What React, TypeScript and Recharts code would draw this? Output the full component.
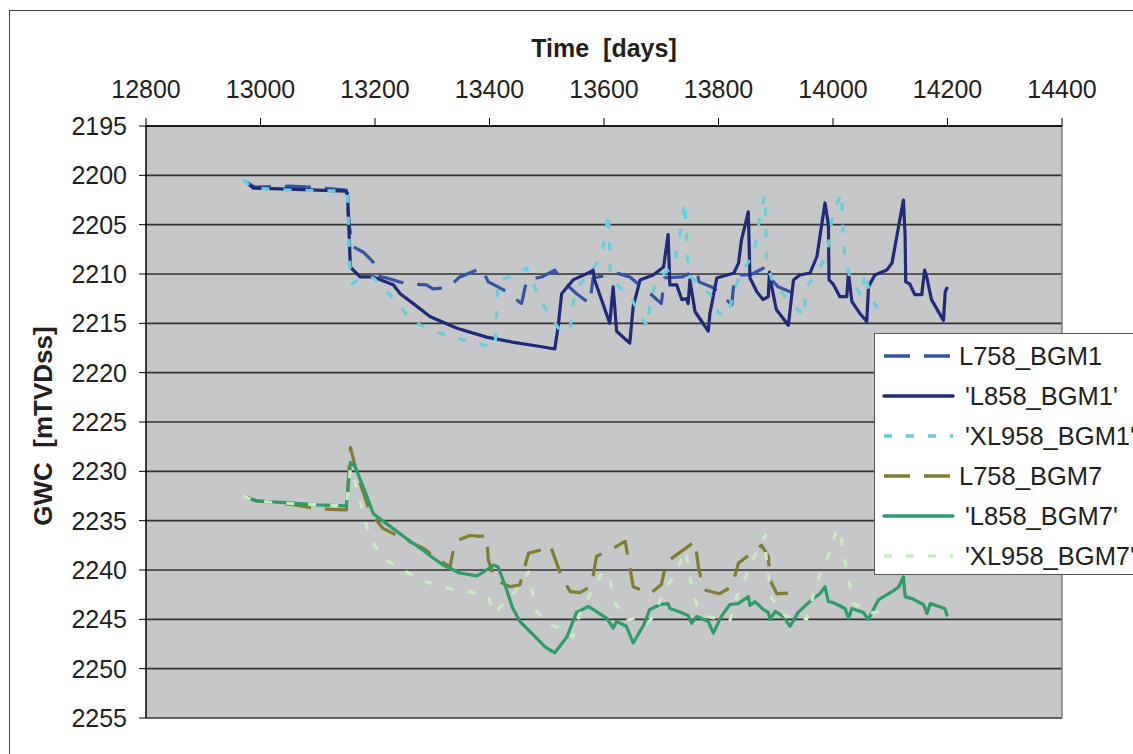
import { CartesianGrid, Line, LineChart, ReferenceLine, XAxis, YAxis } from 'recharts'

// [day, GWC in mTVDss] pairs
const L758_BGM1: [number, number][] = [
  [12975, 2200.7], [12990, 2201.2], [13050, 2201.1], [13090, 2201.2], [13150, 2201.5], [13155, 2205.0],
  [13160, 2207.2], [13180, 2207.8], [13197, 2208.8], [13205, 2210.2], [13220, 2210.4], [13255, 2211.0],
  [13290, 2211.1], [13301, 2211.5], [13328, 2211.4], [13348, 2210.3], [13386, 2209.4], [13398, 2210.8],
  [13415, 2211.3], [13430, 2211.8], [13456, 2213.0], [13465, 2210.6], [13491, 2210.3], [13514, 2209.6],
  [13526, 2210.6], [13552, 2212.0], [13575, 2213.0], [13581, 2210.4], [13622, 2209.9], [13645, 2210.3],
  [13683, 2212.1], [13700, 2213.0], [13706, 2210.4], [13736, 2210.3], [13762, 2209.6], [13766, 2210.8],
  [13791, 2211.4], [13823, 2213.1], [13826, 2211.4], [13832, 2210.1], [13855, 2210.1], [13882, 2209.3],
  [13890, 2210.4], [13904, 2211.3], [13925, 2211.8], [13939, 2212.5],
]

const L858_BGM1: [number, number][] = [
  [12975, 2200.7], [12988, 2201.3], [13050, 2201.4], [13148, 2201.6], [13152, 2201.8], [13157, 2209.3],
  [13174, 2210.3], [13197, 2210.3], [13232, 2211.1], [13244, 2212.0], [13267, 2213.0], [13296, 2214.3],
  [13343, 2215.5], [13395, 2216.4], [13440, 2216.9], [13494, 2217.4], [13514, 2217.6], [13520, 2215.3],
  [13526, 2212.0], [13546, 2210.6], [13576, 2209.8], [13581, 2209.6], [13583, 2210.5], [13610, 2215.0],
  [13616, 2211.3], [13622, 2215.8], [13645, 2217.0], [13651, 2213.3], [13663, 2210.6], [13686, 2210.1],
  [13704, 2209.3], [13712, 2206.0], [13715, 2211.1], [13727, 2211.1], [13736, 2212.6], [13744, 2212.5],
  [13747, 2213.0], [13750, 2210.6], [13759, 2213.8], [13782, 2215.8], [13785, 2214.0], [13797, 2210.4],
  [13827, 2209.9], [13835, 2208.9], [13840, 2206.6], [13852, 2203.7], [13855, 2210.4], [13867, 2211.8],
  [13878, 2212.6], [13887, 2212.3], [13889, 2209.8], [13892, 2211.0], [13901, 2213.6], [13922, 2215.2],
  [13931, 2210.6], [13942, 2210.1], [13960, 2209.9], [13972, 2208.2], [13986, 2202.8], [13992, 2205.0],
  [13993, 2210.6], [14000, 2211.0], [14012, 2212.3], [14024, 2212.3], [14027, 2209.9], [14033, 2212.8],
  [14047, 2214.0], [14059, 2214.8], [14062, 2211.3], [14073, 2210.1], [14094, 2209.6], [14103, 2208.9],
  [14123, 2202.5], [14126, 2206.2], [14127, 2210.8], [14134, 2211.0], [14143, 2212.1], [14155, 2212.1],
  [14160, 2209.6], [14163, 2210.1], [14172, 2212.6], [14193, 2214.7], [14196, 2211.8], [14200, 2211.3],
]

const XL958_BGM1: [number, number][] = [
  [12970, 2200.4], [12985, 2201.3], [13050, 2201.5], [13148, 2201.6], [13152, 2202.0], [13157, 2210.5],
  [13160, 2211.0], [13175, 2210.4], [13197, 2210.4], [13226, 2212.1], [13264, 2214.7], [13296, 2215.7],
  [13337, 2216.4], [13371, 2217.0], [13410, 2217.4], [13413, 2213.0], [13415, 2210.6], [13436, 2210.3],
  [13465, 2209.4], [13474, 2210.6], [13488, 2212.6], [13506, 2214.2], [13523, 2215.7], [13541, 2215.7],
  [13544, 2213.6], [13552, 2211.4], [13573, 2210.1], [13596, 2208.2], [13608, 2203.8], [13610, 2207.9],
  [13611, 2210.1], [13628, 2211.4], [13645, 2212.1], [13663, 2214.3], [13677, 2215.3], [13680, 2213.0],
  [13692, 2210.4], [13721, 2209.3], [13736, 2205.0], [13741, 2202.7], [13745, 2206.9], [13747, 2209.9],
  [13768, 2211.4], [13785, 2212.0], [13800, 2214.0], [13817, 2214.2], [13826, 2211.8], [13838, 2210.1],
  [13862, 2207.9], [13874, 2203.5], [13882, 2202.0], [13883, 2206.6], [13884, 2208.9], [13896, 2211.0],
  [13933, 2213.3], [13950, 2214.3], [13952, 2211.5], [13968, 2210.1], [13989, 2208.2], [14000, 2203.8],
  [14015, 2201.8], [14018, 2206.2], [14021, 2208.6], [14030, 2210.4], [14050, 2212.3], [14056, 2209.8],
  [14064, 2212.0], [14080, 2213.8], [14085, 2213.0],
]

const L758_BGM7: [number, number][] = [
  [12975, 2232.6], [12993, 2233.0], [13060, 2233.4], [13100, 2233.8], [13150, 2233.9], [13157, 2227.6],
  [13170, 2230.5], [13191, 2234.1], [13214, 2235.8], [13249, 2236.8], [13284, 2237.8], [13313, 2239.0],
  [13331, 2239.7], [13340, 2237.1], [13366, 2236.5], [13383, 2236.6], [13395, 2236.5], [13398, 2239.0],
  [13410, 2241.0], [13436, 2241.7], [13453, 2241.5], [13468, 2238.3], [13488, 2238.0], [13506, 2237.5],
  [13526, 2240.7], [13541, 2242.2], [13558, 2242.3], [13578, 2241.6], [13587, 2238.6], [13610, 2238.0],
  [13637, 2237.1], [13645, 2239.7], [13651, 2241.7], [13680, 2242.4], [13700, 2241.5], [13709, 2239.2],
  [13759, 2237.1], [13765, 2239.7], [13774, 2242.0], [13802, 2242.4], [13823, 2241.7], [13835, 2239.3],
  [13875, 2237.5], [13887, 2238.6], [13890, 2241.0], [13902, 2242.4], [13937, 2242.3],
]

const L858_BGM7: [number, number][] = [
  [12975, 2232.6], [12993, 2233.0], [13050, 2233.2], [13100, 2233.4], [13150, 2233.5], [13157, 2229.1],
  [13165, 2229.5], [13183, 2232.1], [13197, 2234.3], [13220, 2235.3], [13255, 2236.8], [13284, 2238.0],
  [13302, 2238.8], [13319, 2239.5], [13348, 2240.3], [13378, 2240.6], [13395, 2240.0], [13407, 2239.5],
  [13415, 2239.7], [13430, 2242.0], [13440, 2243.8], [13453, 2245.2], [13477, 2246.6], [13497, 2247.8],
  [13514, 2248.4], [13535, 2246.8], [13552, 2244.3], [13573, 2243.7], [13581, 2244.0], [13605, 2244.9],
  [13616, 2245.9], [13622, 2245.2], [13639, 2245.7], [13651, 2247.4], [13669, 2245.6], [13680, 2244.0],
  [13698, 2243.5], [13712, 2243.4], [13715, 2243.9], [13730, 2244.2], [13747, 2244.6], [13753, 2245.4],
  [13762, 2244.7], [13782, 2245.2], [13791, 2246.4], [13805, 2244.7], [13820, 2243.5], [13835, 2243.4],
  [13852, 2242.7], [13855, 2243.6], [13864, 2243.2], [13878, 2244.0], [13887, 2244.3], [13890, 2245.0],
  [13899, 2244.2], [13913, 2244.7], [13925, 2245.7], [13939, 2244.3], [13963, 2243.0], [13977, 2242.4],
  [13986, 2241.7], [13992, 2243.2], [14000, 2243.3], [14021, 2243.9], [14027, 2244.9], [14033, 2243.9],
  [14053, 2244.3], [14062, 2245.0], [14076, 2243.4], [14080, 2243.0], [14103, 2242.2], [14115, 2241.7],
  [14123, 2240.7], [14126, 2242.7], [14138, 2242.9], [14158, 2243.5], [14164, 2244.4], [14170, 2243.4],
  [14195, 2243.9], [14200, 2244.7],
]

const XL958_BGM7: [number, number][] = [
  [12970, 2232.5], [12990, 2233.0], [13060, 2233.3], [13150, 2233.5], [13157, 2229.7], [13171, 2232.1],
  [13180, 2234.6], [13194, 2237.1], [13220, 2239.0], [13255, 2240.2], [13290, 2241.2], [13331, 2241.9],
  [13366, 2242.2], [13398, 2242.7], [13407, 2244.4], [13415, 2244.0], [13442, 2242.4], [13468, 2240.2],
  [13474, 2242.0], [13482, 2244.2], [13506, 2245.6], [13529, 2245.9], [13546, 2246.8], [13558, 2244.4],
  [13578, 2242.2], [13598, 2240.2], [13610, 2240.7], [13616, 2243.0], [13639, 2245.1], [13654, 2244.9],
  [13677, 2245.4], [13689, 2244.4], [13704, 2242.2], [13727, 2240.2], [13741, 2238.0], [13747, 2239.3],
  [13753, 2241.7], [13762, 2243.5], [13782, 2244.7], [13808, 2245.1], [13820, 2245.1], [13832, 2242.7],
  [13849, 2240.5], [13867, 2238.1], [13882, 2236.5], [13883, 2238.6], [13893, 2242.9], [13917, 2244.7],
  [13939, 2244.7], [13954, 2245.0], [13965, 2242.7], [13977, 2240.5], [13994, 2238.3], [14006, 2236.0],
  [14012, 2235.8], [14018, 2238.0], [14027, 2241.0], [14036, 2243.4], [14047, 2243.7], [14059, 2244.4],
  [14085, 2244.2],
]

const xTicks = [12800, 13000, 13200, 13400, 13600, 13800, 14000, 14200, 14400]
const yTicks = [2195, 2200, 2205, 2210, 2215, 2220, 2225, 2230, 2235, 2240, 2245, 2250, 2255]

const LONG_DASH = '26 14'
const SHORT_DASH = '8 14'

const series = [
  { name: 'L758_BGM1', points: L758_BGM1, color: '#3454a6', dash: LONG_DASH },
  { name: "'L858_BGM1'", points: L858_BGM1, color: '#212a78', dash: undefined },
  { name: "'XL958_BGM1'", points: XL958_BGM1, color: '#68cedc', dash: SHORT_DASH },
  { name: 'L758_BGM7', points: L758_BGM7, color: '#7f7d32', dash: LONG_DASH },
  { name: "'L858_BGM7'", points: L858_BGM7, color: '#2e9c68', dash: undefined },
  { name: "'XL958_BGM7'", points: XL958_BGM7, color: '#cde9c4', dash: SHORT_DASH },
]

const FONT = '"Liberation Sans", Arial, sans-serif'
const TEXT = '#231f20'

function ChartLegend() {
  return (
    <div
      style={{
        position: 'absolute',
        left: 874,
        top: 333,
        width: 320,
        height: 242,
        border: '1.5px solid #555',
        background: '#fff',
        boxSizing: 'border-box',
        paddingTop: 2,
      }}
    >
      {series.map((s) => (
        <div key={s.name} style={{ display: 'flex', alignItems: 'center', height: 40 }}>
          <svg width={84} height={10} style={{ flex: 'none' }}>
            <line
              x1={9}
              x2={78}
              y1={5}
              y2={5}
              stroke={s.color}
              strokeWidth={3.5}
              strokeDasharray={s.dash}
              strokeLinecap={s.dash ? 'butt' : 'round'}
            />
          </svg>
          <span
            style={{
              fontSize: 25.5,
              color: TEXT,
              whiteSpace: 'nowrap',
              paddingLeft: s.name.startsWith("'") ? 6 : 0,
            }}
          >
            {s.name}
          </span>
        </div>
      ))}
    </div>
  )
}

export default function App() {
  return (
    <div
      style={{
        position: 'absolute',
        left: 0,
        top: 0,
        width: 1133,
        height: 754,
        overflow: 'hidden',
        background: '#fff',
        fontFamily: FONT,
      }}
    >
      <div
        style={{
          position: 'absolute',
          left: 9,
          top: 10,
          width: 1200,
          height: 800,
          border: '1.5px solid #444',
        }}
      />
      <LineChart
        width={1133}
        height={754}
        margin={{ top: 86, right: 71, bottom: 36, left: 46 }}
        style={{ position: 'absolute', left: 0, top: 0 }}
      >
        <CartesianGrid vertical={false} stroke="#333" strokeWidth={1.6} fill="#c6c7c9" fillOpacity={1} />
        <XAxis
          type="number"
          dataKey="day"
          orientation="top"
          domain={[12800, 14400]}
          ticks={xTicks}
          interval={0}
          height={40}
          tickSize={8}
          tickMargin={20}
          axisLine={{ stroke: '#000', strokeWidth: 1.5 }}
          tickLine={{ stroke: '#000', strokeWidth: 1 }}
          tick={{ fill: TEXT, fontSize: 25, fontFamily: FONT }}
          allowDataOverflow
        />
        <YAxis
          type="number"
          dataKey="gwc"
          reversed
          domain={[2195, 2255]}
          ticks={yTicks}
          interval={0}
          width={100}
          tickSize={7}
          tickMargin={12}
          axisLine={{ stroke: '#000', strokeWidth: 1.5 }}
          tickLine={{ stroke: '#000', strokeWidth: 1 }}
          tick={{ fill: TEXT, fontSize: 25, fontFamily: FONT }}
          allowDataOverflow
        />
        <ReferenceLine x={14400} stroke="#808080" strokeWidth={1.5} />
        {series.map((s) => (
          <Line
            key={s.name}
            name={s.name}
            data={s.points.map(([day, gwc]) => ({ day, gwc }))}
            dataKey="gwc"
            type="linear"
            stroke={s.color}
            strokeWidth={3.2}
            strokeDasharray={s.dash}
            strokeLinejoin="round"
            dot={false}
            activeDot={false}
            isAnimationActive={false}
          />
        ))}
      </LineChart>
      <div
        style={{
          position: 'absolute',
          left: 454,
          top: 33,
          width: 300,
          lineHeight: '30px',
          textAlign: 'center',
          fontSize: 25,
          fontWeight: 'bold',
          color: TEXT,
          whiteSpace: 'pre',
        }}
      >
        {'Time  [days]'}
      </div>
      <div
        style={{
          position: 'absolute',
          left: 43 - 150,
          top: 426 - 15,
          width: 300,
          lineHeight: '30px',
          textAlign: 'center',
          fontSize: 26,
          fontWeight: 'bold',
          color: TEXT,
          whiteSpace: 'pre',
          transform: 'rotate(-90deg)',
        }}
      >
        {'GWC  [mTVDss]'}
      </div>
      <ChartLegend />
    </div>
  )
}
